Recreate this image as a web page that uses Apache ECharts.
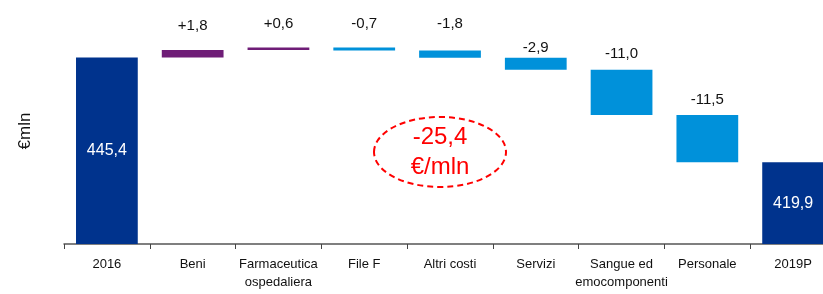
<!DOCTYPE html>
<html>
<head>
<meta charset="utf-8">
<script src="https://cdn.jsdelivr.net/npm/echarts@6/dist/echarts.min.js"></script>
<style>
  html, body { margin: 0; padding: 0; background: #fff; }
  #chart { width: 823px; height: 294px; }
</style>
</head>
<body>
<div id="chart"></div>
<script>
// dati
var categories = ['2016', 'Beni', 'Farmaceutica\nospedaliera', 'File F', 'Altri costi', 'Servizi', 'Sangue ed\nemocomponenti', 'Personale', '2019P'];
var startTotal = 445.4;
var deltas = [1.8, 0.6, -0.7, -1.8, -2.9, -11.0, -11.5];
var endTotal = 419.9;
var totalNote = ['-25,4', '€/mln'];

// stile
var yMin = 400, yMax = 455;
var colTotal = '#00338D', colUp = '#6F1D77', colDown = '#0091DA';
var labelGap = [17, 16, 16, 19, 2, 8, 8]; // distanza etichette sopra le barre
var font = "'Liberation Sans Narrow', 'Arial Narrow', 'Liberation Sans', sans-serif";

function fmt(v) {
    return v.toFixed(1).replace('.', ',');
}

// costruzione waterfall: base trasparente + barra visibile
var base = [], visible = [];
base.push(yMin);
visible.push({
    value: startTotal - yMin,
    itemStyle: { color: colTotal },
    label: { show: true, position: 'inside', color: '#fff', fontSize: 16, formatter: fmt(startTotal) }
});
var run = startTotal;
for (var i = 0; i < deltas.length; i++) {
    var d = deltas[i];
    var next = run + d;
    base.push(Math.min(run, next));
    visible.push({
        value: Math.abs(d),
        itemStyle: { color: d >= 0 ? colUp : colDown },
        label: {
            show: true, position: 'top', distance: labelGap[i], color: '#111', fontSize: 15,
            formatter: (d >= 0 ? '+' : '') + fmt(d)
        }
    });
    run = next;
}
base.push(yMin);
visible.push({
    value: endTotal - yMin,
    itemStyle: { color: colTotal },
    label: { show: true, position: 'inside', color: '#fff', fontSize: 16, formatter: fmt(endTotal) }
});

var chart = echarts.init(document.getElementById('chart'));
chart.setOption({
    animation: false,
    textStyle: { fontFamily: font },
    grid: { left: 64, width: 772, top: 18, bottom: 50, outerBoundsMode: 'none', containLabel: false },
    xAxis: {
        type: 'category',
        data: categories,
        axisLine: { lineStyle: { color: '#555', width: 1.5 } },
        axisTick: { show: true, length: 5, lineStyle: { color: '#444' } },
        axisLabel: { color: '#111', fontSize: 13, margin: 11, lineHeight: 18, interval: 0 }
    },
    yAxis: {
        type: 'value',
        min: yMin,
        max: yMax,
        name: '€mln',
        nameLocation: 'middle',
        nameGap: 30,
        nameRotate: 90,
        nameTextStyle: { fontFamily: "'Liberation Sans', Arial, sans-serif", fontSize: 17, color: '#111' },
        axisLine: { show: false },
        axisTick: { show: false },
        axisLabel: { show: false },
        splitLine: { show: false }
    },
    series: [
        {
            type: 'bar',
            stack: 'wf',
            data: base,
            barWidth: '72%',
            itemStyle: { color: 'transparent' },
            silent: true
        },
        {
            type: 'bar',
            stack: 'wf',
            data: visible,
            barWidth: '72%'
        }
    ],
    graphic: [
        {
            type: 'ellipse',
            shape: { cx: 440, cy: 152, rx: 66, ry: 35 },
            style: { fill: 'none', stroke: '#f00', lineWidth: 2, lineDash: [6, 4] }
        },
        {
            type: 'text',
            x: 440, y: 152,
            style: {
                text: totalNote.join('\n'),
                fill: '#f00',
                font: "24px 'Liberation Sans', Arial, sans-serif",
                lineHeight: 30,
                align: 'center',
                verticalAlign: 'middle'
            }
        }
    ]
});
</script>
</body>
</html>
